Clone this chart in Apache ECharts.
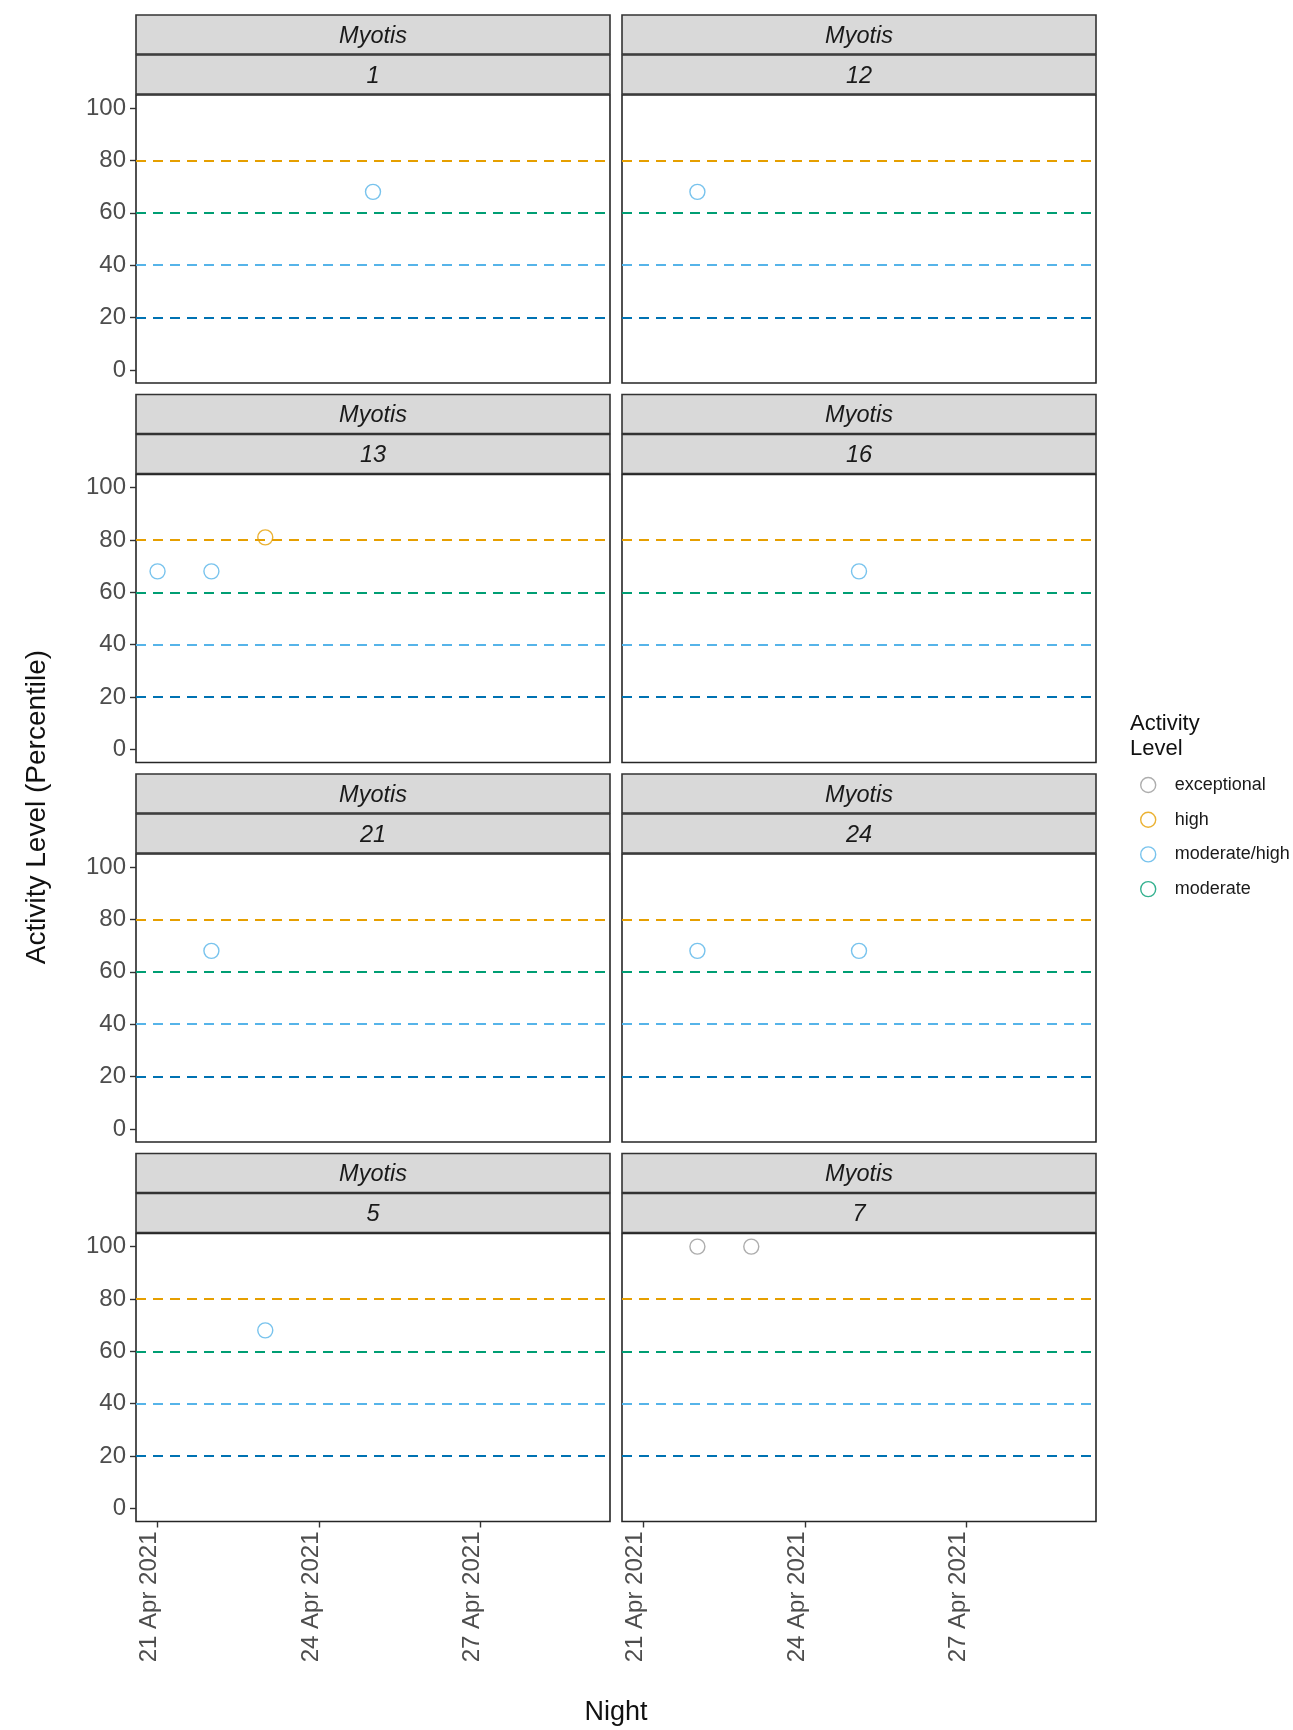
<!DOCTYPE html>
<html>
<head>
<meta charset="utf-8">
<script src="https://cdn.jsdelivr.net/npm/echarts@6/dist/echarts.min.js"></script>
<style>
html,body{margin:0;padding:0;background:#fff;}
#chart{width:1293px;height:1730px;}
</style>
</head>
<body>
<div id="chart"></div>
<script>
// ---- data ----
const panels = ['1', '12', '13', '16', '21', '24', '5', '7'];
const speciesLabel = 'Myotis';
const pointPanel = ['1', '12', '13', '13', '13', '16', '21', '24', '24', '5', '7', '7'];
const pointNight = ['2021-04-25', '2021-04-22', '2021-04-21', '2021-04-22', '2021-04-23', '2021-04-25',
                    '2021-04-22', '2021-04-22', '2021-04-25', '2021-04-23', '2021-04-22', '2021-04-23'];
const pointValue = [68, 68, 68, 68, 81, 68, 68, 68, 68, 68, 100, 100];
const pointLevel = ['moderate/high', 'moderate/high', 'moderate/high', 'moderate/high', 'high', 'moderate/high',
                    'moderate/high', 'moderate/high', 'moderate/high', 'moderate/high', 'exceptional', 'exceptional'];
const levels = ['exceptional', 'high', 'moderate/high', 'moderate'];
const levelColors = ['#999999', '#E69F00', '#56B4E9', '#009E73'];
const thresholds = [20, 40, 60, 80];
const thresholdColors = ['#0072B2', '#56B4E9', '#009E73', '#E69F00'];
const yTicks = [0, 20, 40, 60, 80, 100];
const xTicks = ['2021-04-21', '2021-04-24', '2021-04-27'];
const xDataRange = ['2021-04-21', '2021-04-29'];
const yDataRange = [0, 100];

// ---- helpers ----
const FONT = '"Liberation Sans", Arial, Helvetica, sans-serif';
const MONTHS = ['Jan','Feb','Mar','Apr','May','Jun','Jul','Aug','Sep','Oct','Nov','Dec'];
function ts(s) { const p = s.split('-').map(Number); return Date.UTC(p[0], p[1] - 1, p[2]); }
function fmtDate(v) { const d = new Date(Math.round(v)); return d.getUTCDate() + ' ' + MONTHS[d.getUTCMonth()] + ' ' + d.getUTCFullYear(); }

const x0 = ts(xDataRange[0]), x1 = ts(xDataRange[1]);
const xPad = (x1 - x0) * 0.05;
const yPad = (yDataRange[1] - yDataRange[0]) * 0.05;

// layout
const colLeft = [136, 622];
const panelW = 474;
const rowTop = [95, 474.5, 854, 1233.5];
const panelH = 288;
const stripH = 39;

const grids = [], xAxes = [], yAxes = [], series = [], graphics = [];

panels.forEach((p, i) => {
  const col = i % 2, row = Math.floor(i / 2);
  const left = colLeft[col], top = rowTop[row];
  const isBottom = row === 3, isLeft = col === 0;
  grids.push({
    left: left, top: top, width: panelW, height: panelH,
    show: true, borderColor: '#262626', borderWidth: 1.6, backgroundColor: '#fff'
  });
  xAxes.push({
    type: 'value', gridIndex: i, min: x0 - xPad, max: x1 + xPad, position: 'bottom',
    axisLine: { show: false, onZero: false },
    axisTick: { show: isBottom, length: 6, lineStyle: { color: '#333', width: 1.4 }, customValues: xTicks.map(ts) },
    axisLabel: {
      show: isBottom, customValues: xTicks.map(ts), rotate: 90, margin: 10,
      verticalAlign: 'bottom', lineHeight: 16, color: '#4D4D4D', fontSize: 24, fontFamily: FONT,
      formatter: (v) => fmtDate(v)
    },
    splitLine: { show: false }
  });
  yAxes.push({
    type: 'value', gridIndex: i, min: yDataRange[0] - yPad, max: yDataRange[1] + yPad,
    axisLine: { show: false, onZero: false },
    axisTick: { show: isLeft, length: 6, lineStyle: { color: '#333', width: 1.4 }, customValues: yTicks },
    axisLabel: { show: isLeft, customValues: yTicks, margin: 10, color: '#4D4D4D', fontSize: 24, fontFamily: FONT },
    splitLine: { show: false }
  });
  // threshold reference lines
  series.push({
    type: 'scatter', name: '__ref' + i, xAxisIndex: i, yAxisIndex: i, data: [], silent: true,
    markLine: {
      silent: true, symbol: ['none', 'none'], label: { show: false }, animation: false,
      data: thresholds.map((v, k) => ({
        yAxis: v, lineStyle: { color: thresholdColors[k], type: [10, 7], width: 2 }
      }))
    }
  });
  // points, one series per level present
  levels.forEach((lv, li) => {
    const pts = [];
    pointPanel.forEach((pp, k) => {
      if (pp === p && pointLevel[k] === lv) pts.push([ts(pointNight[k]), pointValue[k]]);
    });
    if (pts.length || (i === 0)) {
      series.push({
        type: 'scatter', name: lv, xAxisIndex: i, yAxisIndex: i, data: pts,
        symbol: 'circle', symbolSize: 15, z: 5,
        itemStyle: { color: 'rgba(255,255,255,0)', borderColor: levelColors[li], borderWidth: 1.4 }
      });
    }
  });
  // strips
  const labels = [speciesLabel, p];
  labels.forEach((lab, s) => {
    const sy = top - 80 + s * 40;
    graphics.push({
      type: 'rect', shape: { x: left, y: sy, width: panelW, height: stripH },
      style: { fill: '#D9D9D9', stroke: '#333', lineWidth: 1.6 }, silent: true
    });
    graphics.push({
      type: 'text', x: left + panelW / 2, y: sy + stripH / 2 + 1.5,
      style: { text: lab, fontSize: 23.5, fontStyle: 'italic', fontFamily: FONT, fill: '#1A1A1A',
               align: 'center', verticalAlign: 'middle' }, silent: true
    });
  });
});

// axis titles & legend title
graphics.push({
  type: 'text', x: 37, y: 807, rotation: Math.PI / 2,
  style: { text: 'Activity Level (Percentile)', fontSize: 28, fontFamily: FONT, fill: '#111',
           align: 'center', verticalAlign: 'middle' }, silent: true
});
graphics.push({
  type: 'text', x: 616, y: 1713,
  style: { text: 'Night', fontSize: 27, fontFamily: FONT, fill: '#111',
           align: 'center', verticalAlign: 'middle' }, silent: true
});
graphics.push({
  type: 'text', x: 1130, y: 711,
  style: { text: 'Activity\nLevel', fontSize: 22, lineHeight: 25, fontFamily: FONT, fill: '#111',
           align: 'left', verticalAlign: 'top' }, silent: true
});

const chart = echarts.init(document.getElementById('chart'), null, { renderer: 'canvas' });
chart.setOption({
  animation: false,
  backgroundColor: '#fff',
  grid: grids,
  xAxis: xAxes,
  yAxis: yAxes,
  legend: {
    orient: 'vertical', left: 1135, top: 771, itemWidth: 15, itemHeight: 15, itemGap: 16.7,
    selectedMode: false,
    textStyle: { fontSize: 18, fontFamily: FONT, color: '#1A1A1A', padding: [0, 0, 0, 14] },
    data: levels.map((lv, li) => ({
      name: lv, icon: 'circle',
      itemStyle: { color: 'rgba(255,255,255,0)', borderColor: levelColors[li], borderWidth: 1.4 }
    }))
  },
  graphic: graphics,
  series: series
});
</script>
</body>
</html>
